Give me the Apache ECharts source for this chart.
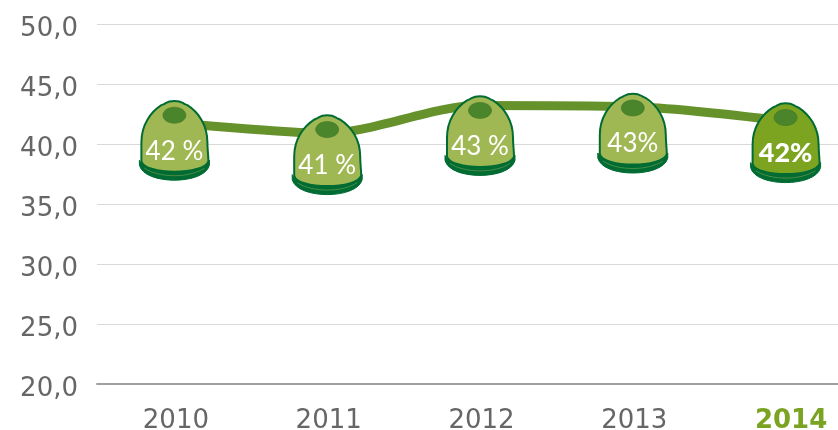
<!DOCTYPE html>
<html>
<head>
<meta charset="utf-8">
<style>
  html, body { margin: 0; padding: 0; background: #fff; overflow: hidden; }
  #chart { width: 838px; height: 430px; }
</style>
<script src="https://cdn.jsdelivr.net/npm/echarts@6/dist/echarts.min.js"></script>
</head>
<body>
<div id="chart"></div>
<script>
const categories = ['2010', '2011', '2012', '2013', '2014']
const lineValues = [41.8, 40.9, 43.2, 43.1, 41.9]
// the bins do not sit exactly on the line, so they have their own values
const binValues = [42.4, 41.2, 42.8, 43.0, 42.2]
const binLabels = ['42 %', '41 %', '43 %', '43%', '42%']
const highlightIndex = 4

const FONT = '"DejaVu Sans"'
const LABEL_FONT = 'Lato'
const BIN_OUTLINE = '#006B32'

const chart = echarts.init(document.getElementById('chart'), null, { renderer: 'canvas' })

// bin glyph, drawn around the centre of the hole
const bodyPath =
  'M-33,46 C-33,40 -33,35 -33,27 C-33,10 -24,-3 -13,-10 C-11,-11 -10,-11 -9,-12 ' +
  'C-4,-15 4,-15 9,-12 C10,-11 11,-11 13,-10 C24,-3 33,10 33,27 ' +
  'C33,35 34,40 34,46 C30,60 -30,60 -33,46 Z'
const basePath = 'M-35,45 L-35,50 C-30,70 30,70 35,50 L35,45 C30,58 -30,58 -35,45 Z'
const rimPath = 'M-30,53 C-15,63 15,63 30,53'

const renderBin = (params, api) => {
  const i = params.dataIndex
  const pos = api.coord([i, api.value(1)])
  const isLast = i === highlightIndex
  return {
    type: 'group',
    x: pos[0] + 1,
    y: pos[1],
    children: [
      {
        type: 'path',
        shape: { pathData: basePath, x: -35, y: 45, width: 70, height: 20, layout: 'cover' },
        style: { fill: BIN_OUTLINE, stroke: BIN_OUTLINE, lineWidth: 1 }
      },
      {
        type: 'path',
        shape: { pathData: bodyPath, x: -33, y: -14.25, width: 67, height: 70.75, layout: 'cover' },
        style: { fill: isLast ? '#7DA421' : '#A0B853', stroke: BIN_OUTLINE, lineWidth: 2 }
      },
      {
        type: 'path',
        shape: { pathData: rimPath, x: -30, y: 53, width: 60, height: 7.5, layout: 'cover' },
        style: { fill: 'none', stroke: '#8FB05A', lineWidth: 0.7, opacity: 0.7 }
      },
      {
        type: 'ellipse',
        shape: { cx: 0, cy: 0, rx: 11.5, ry: 8 },
        style: { fill: '#4A842B', stroke: '#3F7426', lineWidth: 0.6 }
      },
      {
        type: 'text',
        style: {
          text: binLabels[i],
          x: 0,
          y: 36,
          align: 'center',
          verticalAlign: 'middle',
          fill: '#fff',
          font: (isLast ? '900 27px ' : '400 26px ') + LABEL_FONT
        }
      }
    ]
  }
}

const option = {
  animation: false,
  backgroundColor: '#fff',
  grid: { left: 97, top: 24, width: 764, height: 360, outerBoundsMode: 'none' },
  xAxis: {
    type: 'category',
    data: categories,
    axisTick: { show: false },
    axisLine: { lineStyle: { color: '#A0A0A0', width: 2 } },
    axisLabel: {
      interval: 0,
      hideOverlap: false,
      margin: 24,
      padding: [0, 0, 0, 5],
      formatter: (v) => (v === categories[highlightIndex] ? '{hl|' + v + '}' : v),
      color: '#666666',
      fontFamily: FONT,
      fontSize: 26,
      rich: {
        hl: { color: '#7BA322', fontWeight: 'bold', fontFamily: FONT, fontSize: 26, padding: [0, 0, 0, 8] }
      }
    }
  },
  yAxis: {
    type: 'value',
    min: 20,
    max: 50,
    interval: 5,
    axisLine: { show: false },
    axisTick: { show: false },
    splitLine: { lineStyle: { color: '#D9D9D9', width: 1 } },
    axisLabel: {
      margin: 19,
      formatter: (v) => '{t|' + v.toFixed(1).replace('.', ',') + '}',
      rich: {
        t: { color: '#666666', fontFamily: FONT, fontSize: 26, padding: [11, 0, 0, 0] }
      }
    }
  },
  series: [
    {
      type: 'line',
      data: lineValues,
      smooth: 0.3,
      symbol: 'none',
      lineStyle: { color: '#66922C', width: 9 },
      z: 2
    },
    {
      type: 'custom',
      data: binValues.map((v, i) => [i, v]),
      renderItem: renderBin,
      encode: { x: 0, y: 1 },
      clip: false,
      z: 3
    }
  ]
}

chart.setOption(option)
</script>
</body>
</html>
